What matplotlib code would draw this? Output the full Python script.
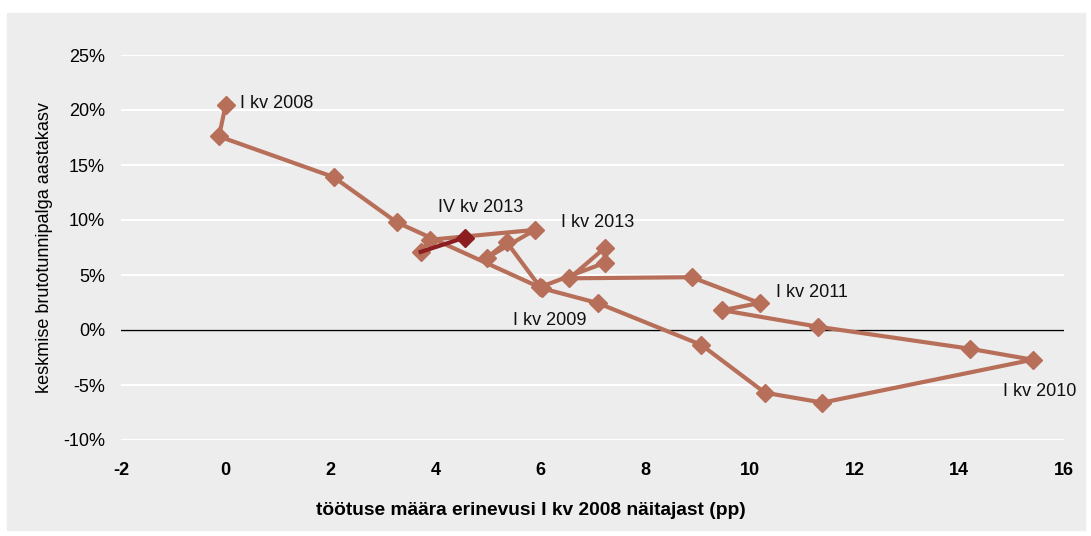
import matplotlib.pyplot as plt
from matplotlib.patches import Rectangle
from matplotlib.ticker import FuncFormatter

# töötuse määra erinevus I kv 2008 näitajast (pp), quarterly path
unemp_diff = [0.0, -0.13, 2.06, 3.26, 6.03, 7.10, 9.08, 10.29, 11.39, 15.40,
              14.20, 11.30, 9.48, 10.19, 8.89, 6.56, 7.23, 7.23, 6.00, 5.36,
              4.98, 5.90, 3.89, 3.72, 4.56]
# keskmise brutotunnipalga aastakasv (%)
wage_growth = [20.5, 17.6, 13.9, 9.8, 3.8, 2.45, -1.36, -5.7, -6.6, -2.7,
               -1.7, 0.3, 1.8, 2.45, 4.8, 4.7, 7.45, 6.1, 3.9, 8.0,
               6.55, 9.1, 8.2, 7.1, 8.4]

labels = ['I kv 2008', 'I kv 2009', 'I kv 2010', 'I kv 2011', 'I kv 2013', 'IV kv 2013']
label_x = [0.27, 5.48, 14.83, 10.5, 6.39, 4.05]
label_y = [20.6, 0.9, -5.6, 3.45, 9.8, 11.1]

xticks = [-2, 0, 2, 4, 6, 8, 10, 12, 14, 16]
yticks = [-10, -5, 0, 5, 10, 15, 20, 25]

bg = '#ecedec'
main_col = '#b86f5a'
dark_col = '#8c1d20'

plt.rcParams['font.family'] = ['Liberation Sans', 'DejaVu Sans']
plt.rcParams['axes.unicode_minus'] = False

fig = plt.figure(figsize=(10.91, 5.36), dpi=100)
fig.patches.append(Rectangle((7 / 1091, 6 / 536), 1078 / 1091, 517 / 536,
                             transform=fig.transFigure, color=bg, zorder=-1))
ax = fig.add_axes([121 / 1091, 96 / 536, 943 / 1091, 385 / 536])
ax.set_zorder(1)
ax.set_facecolor(bg)
for s in ax.spines.values():
    s.set_visible(False)

ax.set_xlim(-2, 16)
ax.set_ylim(-10, 25)
ax.set_xticks(xticks)
ax.set_yticks(yticks)
ax.yaxis.set_major_formatter(FuncFormatter(lambda v, p: '%d%%' % v))
ax.grid(axis='y', color='white', linewidth=1.5)
ax.set_axisbelow(True)
ax.tick_params(length=0, labelsize=13)
ax.tick_params(axis='y', pad=11.5)
ax.tick_params(axis='x', pad=16)
for t in ax.get_xticklabels():
    t.set_fontweight('bold')
ax.axhline(0, color='black', linewidth=1.0, zorder=1.5)

ax.plot(unemp_diff[:-1], wage_growth[:-1], color=main_col, linewidth=3,
        marker='D', markersize=9, zorder=3)
ax.plot(unemp_diff[-2:], wage_growth[-2:], color=dark_col, linewidth=3, zorder=4)
ax.plot(unemp_diff[-1:], wage_growth[-1:], color=dark_col, linestyle='none',
        marker='D', markersize=9, zorder=4)

for lab, lx, ly in zip(labels, label_x, label_y):
    ax.text(lx, ly, lab, fontsize=13, ha='left', va='center', color='#111111')

ax.set_xlabel('töötuse määra erinevusi I kv 2008 näitajast (pp)', fontsize=13.8,
              fontweight='bold')
ax.xaxis.set_label_coords(0.435, -0.162)
ax.set_ylabel('keskmise brutotunnipalga aastakasv', fontsize=13)
ax.yaxis.set_label_coords(-0.072, 0.5)

fig.savefig('out.png', dpi=100)
